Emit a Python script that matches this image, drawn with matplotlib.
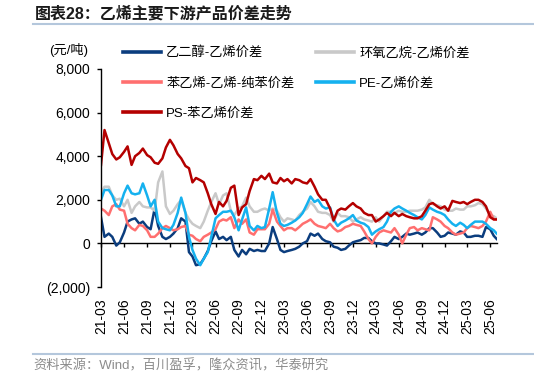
import pandas as pd
import matplotlib
matplotlib.use('Agg')
import matplotlib.pyplot as plt
import matplotlib.dates as mdates
from matplotlib.ticker import FuncFormatter

plt.rcParams['font.family'] = ['Liberation Sans', 'Noto Sans CJK SC']

# semi-monthly readings, last point is the final week of the data
dates = list(pd.date_range('2021-03-01', '2025-06-16', freq='SMS')) + [pd.Timestamp('2025-06-27')]

meg = [1200, 300, 450, 300, -100, 50, 500, 1000, 1100, 1150,
       900, 1000, 750, 650, 1600, 800, 300, 200, 300, 450,
       700, 1150, 1000, -400, -600, -1000, -950, -700, -350, 100,
       550, 200, 300, 150, 300, -300, -600, -300, -500, -250,
       -350, -300, -350, -350, 0, 750, 200, -300, -400, -350,
       -300, -250, -150, 0, 100, 450, 350, 450, 200, 100,
       50, -150, -200, -300, -250, -100, 50, 100, 150, 250,
       250, 100, 0, 0, -50, -100, 100, 300, 200, 300,
       450, 400, 450, 500, 400, 500, 700, 700, 500, 300,
       350, 500, 450, 400, 550, 500, 300, 300, 350, 350,
       300, 750, 650, 350, 200]

eo = [2300, 2600, 2600, 2200, 2000, 2050, 1700, 2000, 1400, 1700,
      1900, 1700, 1650, 1650, 1500, 2800, 3300, 1700, 1350, 1500,
      1800, 2000, 1400, 1100, 900, 800, 700, 1000, 1500, 1900,
      2300, 1800, 2200, 2300, 1500, 1300, 1600, 1700, 2100, 1700,
      1450, 1450, 1550, 1600, 1500, 1600, 1500, 1200, 1000, 1150,
      1100, 1050, 1300, 1450, 1600, 1900, 1700, 1450, 1400, 1400,
      1300, 1000, 1400, 1250, 1250, 1200, 1000, 1100, 1200, 1100,
      1050, 1000, 1200, 1000, 1250, 1450, 1450, 1400, 1500, 1450,
      1450, 1500, 1500, 1500, 1550, 1650, 2000, 1800, 1750, 1700,
      1550, 1500, 1500, 1600, 1550, 1550, 1700, 1700, 1750, 1850,
      1800, 1600, 1300, 1250, 1150]

sm = [1600, 1500, 1300, 1700, 1800, 1550, 1500, 900, 700, 600,
      850, 800, 600, 300, 300, 450, 700, 800, 700, 600,
      650, 750, 800, 400, 350, 200, 100, 300, 400, 500,
      650, 1000, 1100, 1050, 1200, 700, 1100, 900, 1100, 500,
      400, 650, 650, 650, 900, 1550, 1000, 800, 600, 700,
      700, 600, 750, 900, 1000, 1100, 900, 800, 750, 700,
      900, 700, 550, 600, 750, 800, 900, 850, 800, 550,
      200, 0, 300, 500, 600, 550, 500, 700, 400, 0,
      400, 700, 750, 600, 700, 650, 600, 1200, 1100, 1000,
      800, 700, 500, 400, 450, 500, 700, 800, 750, 700,
      800, 1000, 1450, 1100, 1100]

pe = [2000, 2450, 2450, 2200, 1700, 1700, 2300, 2650, 2300, 2250,
      2300, 2750, 2200, 1700, 2000, 1000, 700, 650, 600, 850,
      1400, 2100, 1400, 300, -300, -700, -1000, -700, -400, 300,
      1150, 1300, 1450, 1450, 1500, 1200, 600, 1100, 1650, 800,
      600, 800, 700, 750, 1600, 2350, 1400, 900, 800, 850,
      950, 1050, 1200, 1400, 1800, 2150, 1900, 2000, 1700, 1600,
      1650, 1100, 800, 950, 1050, 1150, 1300, 1050, 950, 900,
      750, 400, 550, 650, 750, 1000, 1450, 1600, 1700, 1600,
      1500, 1400, 1300, 1200, 1100, 1300, 1650, 1550, 1450, 1400,
      1300, 1100, 900, 800, 950, 850, 700, 850, 1000, 1000,
      1000, 900, 700, 600, 450]

ps = [3600, 5200, 4600, 4100, 3850, 3950, 4200, 4450, 3600, 4000,
      4150, 4350, 4050, 3950, 3700, 3650, 3900, 4400, 4750, 4500,
      4100, 3900, 3550, 3450, 2800, 3000, 2900, 2800, 2300, 1800,
      1350, 1900, 1700, 1950, 2550, 2650, 1300, 1650, 1800, 2400,
      2950, 2900, 3100, 2950, 3200, 2800, 2750, 3000, 2850, 2950,
      2750, 2950, 2900, 2800, 2750, 2950, 2600, 2250, 2000, 2000,
      1600, 1050, 1500, 1600, 1550, 1700, 1850, 1700, 1600, 1400,
      1300, 1300, 1000, 1100, 1250, 1400, 1250, 1400, 1250, 1350,
      1250, 1200, 1150, 1150, 1250, 1500, 1800, 1850, 1700, 1600,
      1700, 1500, 1950, 1900, 1850, 1900, 1800, 1900, 2000, 2000,
      1900, 1700, 1200, 1100, 1100]

names = ['乙二醇-乙烯价差', '环氧乙烷-乙烯价差', '苯乙烯-乙烯-纯苯价差', 'PE-乙烯价差', 'PS-苯乙烯价差']
colors = ['#0b3d7e', '#c9c9c9', '#ff6f6f', '#15b1ef', '#b40000']
xtick_dates = pd.date_range('2021-03-01', '2025-06-01', freq='3MS')

fig = plt.figure(figsize=(5.34, 3.78), dpi=100)
ax = fig.add_axes([101 / 534, 1 - 287 / 378, 396 / 534, 218 / 378])

lines = []
for vals, name, c in zip([meg, eo, sm, pe, ps], names, colors):
    ln, = ax.plot(dates, vals, color=c, lw=1.8, label=name, solid_joinstyle='round')
    lines.append(ln)

ax.set_ylim(-2000, 8000)
ax.set_xlim(dates[0], pd.Timestamp('2025-06-28'))
ax.set_yticks(range(-2000, 8001, 2000))
ax.yaxis.set_major_formatter(FuncFormatter(lambda v, p: f'({abs(v):,.0f})' if v < 0 else f'{v:,.0f}'))
ax.tick_params(axis='y', direction='out', length=3, width=1, labelsize=10, pad=5)

for s in ['top', 'right', 'bottom']:
    ax.spines[s].set_visible(False)
ax.spines['left'].set_linewidth(1)

ax.set_xticks(xtick_dates)
ax.set_xticklabels([d.strftime('%y-%m') for d in xtick_dates], rotation=90, fontsize=10)
ax.tick_params(axis='x', length=0, pad=8)

# zero line with the quarter ticks
sec = ax.secondary_xaxis(0.2)
sec.set_xticks(mdates.date2num(xtick_dates))
sec.set_xticklabels([])
sec.tick_params(direction='out', length=3, width=1)
sec.spines['bottom'].set_linewidth(1)

order = [0, 2, 4, 1, 3]
leg = ax.legend([lines[i] for i in order], [names[i] for i in order], ncol=2, frameon=False,
                loc='upper left', bbox_to_anchor=(116 / 534, 1 - 40 / 378),
                bbox_transform=fig.transFigure, fontsize=9.5, handlelength=2.9,
                handletextpad=0.4, columnspacing=1.6, labelspacing=1.35, borderpad=0)
for h in leg.get_lines():
    h.set_linewidth(2.6)

fig.text(69 / 534, 1 - 50 / 378, '(元/吨)', fontsize=9.5, ha='center', va='center')
fig.text(35 / 534, 1 - 14 / 378, '图表28：乙烯主要下游产品价差走势', fontsize=11.5, fontweight='bold',
         ha='left', va='center', color='#1a1a1a')
fig.text(33 / 534, 1 - 366 / 378, '资料来源：Wind，百川盈孚，隆众资讯，华泰研究', fontsize=9.5,
         ha='left', va='center', color='#8c8c8c')
fig.add_artist(plt.Line2D([33 / 534, 1], [1 - 24 / 378] * 2, color='#b4c7dc', lw=1.5))
fig.add_artist(plt.Line2D([33 / 534, 1], [1 - 354 / 378] * 2, color='#b4c7dc', lw=1.5))

fig.savefig('out.png', dpi=100)
